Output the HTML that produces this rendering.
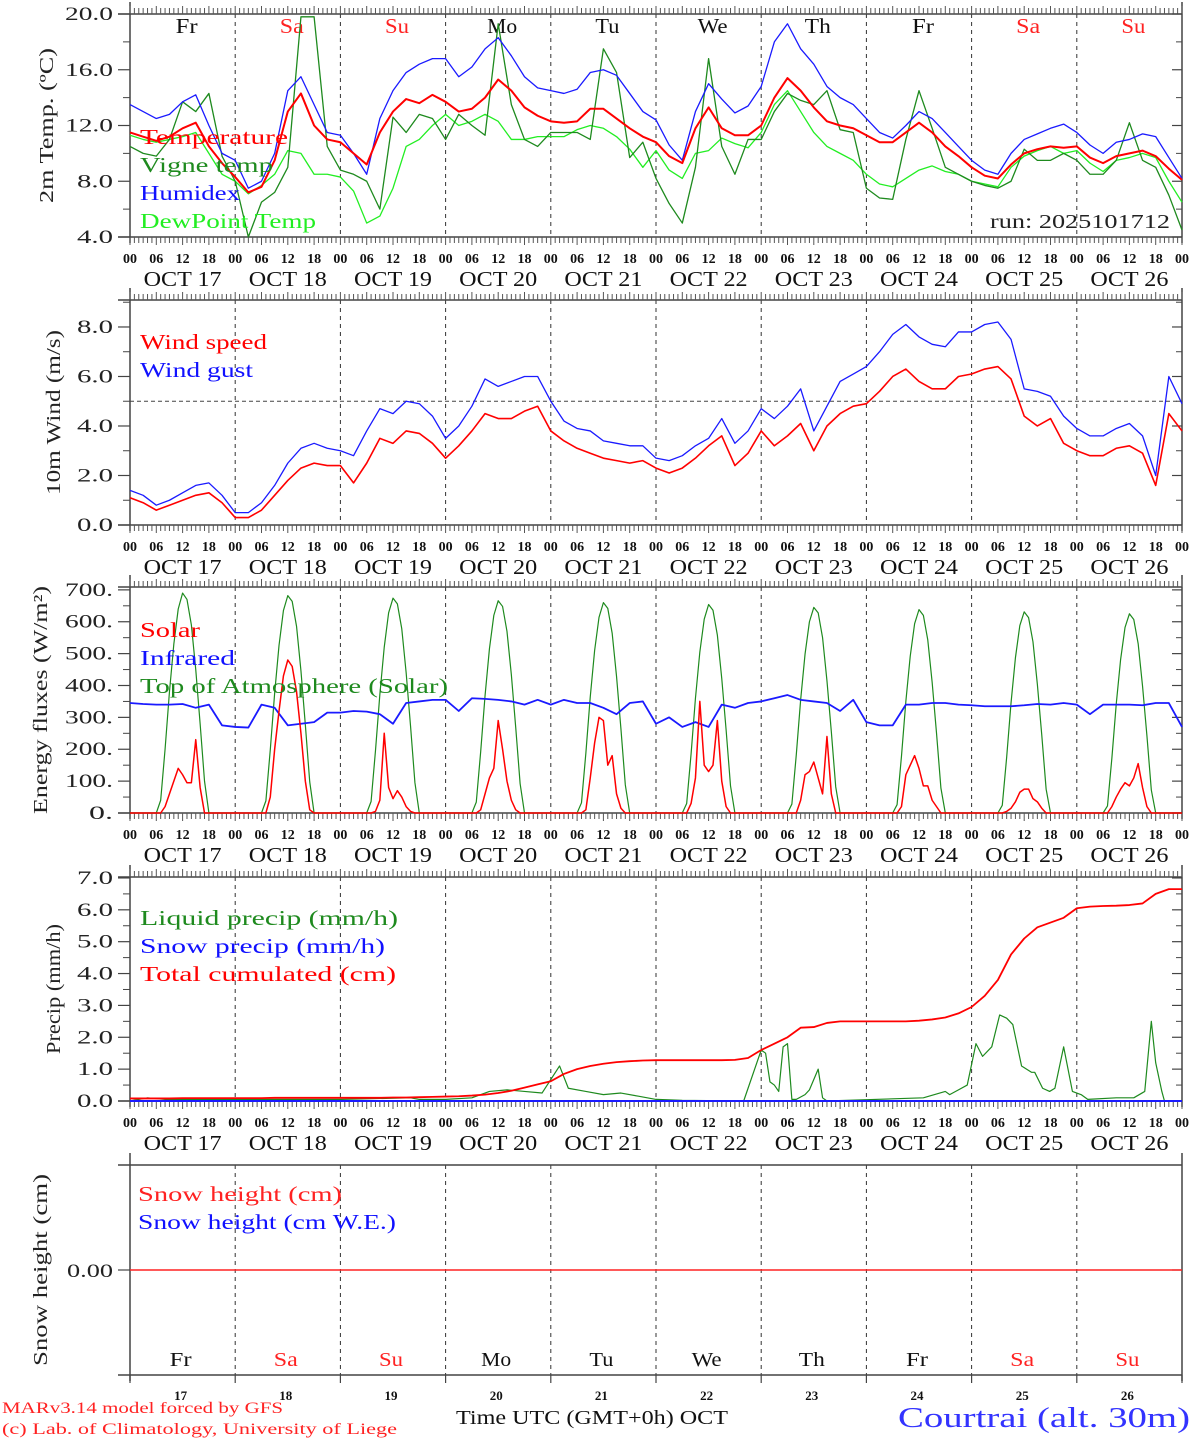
<!DOCTYPE html>
<html><head><meta charset="utf-8"><style>
html,body{margin:0;padding:0;background:#fff;}
svg{display:block;font-family:"Liberation Serif",serif;}
</style></head><body>
<svg id="chart" width="1194" height="1440" viewBox="0 0 1194 1440" xmlns="http://www.w3.org/2000/svg"></svg>
<script>
// ---------------- DATA (3-hourly unless noted, index i = hour 3*i from OCT 17 00UTC) -------------
const dayNames=["Fr","Sa","Su","Mo","Tu","We","Th","Fr","Sa","Su"];
const dayNums=["17","18","19","20","21","22","23","24","25","26"];
const tempT=[11.5,11.2,10.9,11.2,11.8,12.2,10.5,9.3, 8.3,7.2,7.6,9.5,13.0,14.3,12.0,11.0, 10.8,10.0,9.2,11.5,13.0,13.9,13.6,14.2, 13.7,13.0,13.2,14.0,15.3,14.5,13.3,12.7, 12.3,12.2,12.3,13.2,13.2,12.5,11.8,11.2, 10.8,9.8,9.3,11.8,13.3,11.8,11.3,11.3, 12.0,14.0,15.4,14.5,13.3,12.3,12.0,11.8, 11.3,10.8,10.8,11.5,12.2,11.5,10.5,9.8, 9.0,8.4,8.2,9.2,10.0,10.3,10.5,10.4, 10.5,9.7,9.3,9.8,10.0,10.2,9.8,8.9, 8.1];
const tempH=[13.5,13.0,12.5,12.8,13.7,14.2,12.0,10.0, 9.5,7.5,8.0,10.0,14.5,15.5,13.5,11.5, 11.3,10.0,8.5,12.5,14.5,15.8,16.4,16.8, 16.8,15.5,16.2,17.5,18.3,17.0,15.5,14.7, 14.5,14.3,14.6,15.8,16.0,15.6,14.3,13.0, 12.4,10.6,9.5,13.0,15.0,13.9,12.9,13.4, 14.8,18.0,19.3,17.5,16.4,14.8,14.0,13.5, 12.5,11.5,11.1,12.0,13.0,12.5,11.5,10.5, 9.5,8.8,8.5,10.0,11.0,11.4,11.8,12.1, 11.5,10.6,10.0,10.8,11.0,11.4,11.2,9.7, 8.2];
const tempD=[11.3,11.0,10.8,11.0,11.2,11.5,10.0,8.5, 8.0,7.1,7.7,8.5,10.2,10.0,8.5,8.5, 8.3,7.3,5.0,5.5,7.5,10.5,11.0,12.0, 12.8,12.0,12.3,12.8,12.3,11.0,11.0,11.2, 11.2,11.2,11.7,12.0,11.8,11.2,10.3,9.0, 10.2,8.8,8.2,10.0,10.2,11.1,10.7,10.4, 11.5,13.5,14.5,13.0,11.5,10.5,10.0,9.5, 8.5,7.8,7.6,8.2,8.8,9.1,8.7,8.5, 8.0,7.8,7.6,9.0,9.8,10.2,10.5,10.0, 10.2,9.3,8.7,9.5,9.7,10.0,9.7,8.0, 6.5];
const tempV=[10.5,10.0,9.8,11.0,13.7,13.0,14.3,9.8, 8.0,4.0,6.5,7.2,9.0,19.8,19.8,10.5, 8.8,8.5,8.0,6.0,12.6,11.5,12.8,12.5, 11.0,12.8,12.0,11.3,19.3,13.5,11.0,10.5, 11.5,11.5,11.5,11.0,17.5,15.8,9.7,10.8, 8.2,6.4,5.0,9.0,16.8,10.5,8.5,11.0, 11.0,13.0,14.3,13.8,13.5,14.5,11.7,11.5, 7.5,6.8,6.7,11.0,14.5,11.8,9.0,8.5, 8.0,7.7,7.5,8.0,10.3,9.5,9.5,10.0, 9.5,8.5,8.5,9.5,12.2,9.5,9.0,7.0, 4.5];
const windS=[1.1,0.9,0.6,0.8,1.0,1.2,1.3,0.9, 0.3,0.3,0.6,1.2,1.8,2.3,2.5,2.4, 2.4,1.7,2.5,3.5,3.3,3.8,3.7,3.3, 2.7,3.2,3.8,4.5,4.3,4.3,4.6,4.8, 3.8,3.4,3.1,2.9,2.7,2.6,2.5,2.6, 2.3,2.1,2.3,2.7,3.2,3.6,2.4,2.9, 3.8,3.2,3.6,4.1,3.0,4.0,4.5,4.8, 4.9,5.4,6.0,6.3,5.8,5.5,5.5,6.0, 6.1,6.3,6.4,5.9,4.4,4.0,4.3,3.3, 3.0,2.8,2.8,3.1,3.2,2.9,1.6,4.5, 3.8];
const windG=[1.4,1.2,0.8,1.0,1.3,1.6,1.7,1.2, 0.5,0.5,0.9,1.6,2.5,3.1,3.3,3.1, 3.0,2.8,3.8,4.7,4.5,5.0,4.9,4.4, 3.5,4.0,4.8,5.9,5.6,5.8,6.0,6.0, 5.0,4.2,3.9,3.8,3.4,3.3,3.2,3.2, 2.7,2.6,2.8,3.2,3.5,4.3,3.3,3.8, 4.7,4.3,4.8,5.5,3.8,4.8,5.8,6.1, 6.4,7.0,7.7,8.1,7.6,7.3,7.2,7.8, 7.8,8.1,8.2,7.5,5.5,5.4,5.2,4.4, 3.9,3.6,3.6,3.9,4.1,3.6,2.0,6.0, 4.9];
const infrared=[345,342,340,340,342,330,340,275, 270,268,340,330,275,280,285,315, 315,320,318,310,280,345,350,355, 355,320,360,358,355,350,340,355, 340,355,345,345,330,310,345,350, 280,300,270,285,270,340,330,345, 350,360,370,355,350,345,320,355, 285,275,275,340,340,345,345,340, 338,335,335,335,338,342,340,345, 340,310,340,340,340,338,345,345, 270];
// hourly daytime values, hours 06..18 of each day
const toa17=[0,40,200,380,530,640,690,670,590,450,280,100,0];
const toa18=[0,38,198,376,526,635,682,664,585,446,277,98,0];
const toa19=[0,36,195,372,520,628,674,656,578,440,273,95,0];
const toa20=[0,34,192,368,515,620,666,648,570,434,268,92,0];
const toa21=[0,32,188,364,510,614,660,642,564,428,264,88,0];
const toa22=[0,30,185,360,505,608,654,636,558,422,260,85,0];
const toa23=[0,28,182,355,498,600,645,628,550,415,255,82,0];
const toa24=[0,26,178,350,492,594,638,620,543,410,250,78,0];
const toa25=[0,24,175,346,487,588,631,613,537,404,246,75,0];
const toa26=[0,22,172,342,482,582,625,607,531,398,242,72,0];
const solar17=[0,0,20,60,100,140,120,95,95,230,80,0,0];
const solar18=[0,0,50,200,320,430,480,460,380,250,100,10,0];
const solar19=[0,0,5,40,250,80,45,70,50,20,5,0,0];
const solar20=[0,0,10,60,110,140,290,200,100,40,10,0,0];
const solar21=[0,0,10,110,220,300,290,150,180,60,15,0,0];
const solar22=[0,0,30,110,350,150,130,150,290,100,20,0,0];
const solar23=[0,0,0,40,120,130,160,110,60,240,60,0,0];
const solar24=[0,0,20,120,150,180,140,85,85,40,20,0,0];
const solar25=[0,0,5,15,35,65,75,75,45,35,15,0,0];
const solar26=[0,0,20,50,75,95,85,110,155,80,20,0,0];
const totalCum=[0.08,0.08,0.08,0.08,0.09,0.09,0.09,0.09, 0.09,0.09,0.09,0.1,0.1,0.1,0.1,0.1, 0.1,0.1,0.1,0.1,0.11,0.11,0.12,0.13, 0.14,0.15,0.17,0.2,0.25,0.32,0.42,0.52, 0.62,0.85,1.0,1.1,1.17,1.22,1.25,1.27, 1.28,1.28,1.28,1.28,1.28,1.28,1.29,1.35, 1.6,1.8,2.0,2.3,2.32,2.45,2.5,2.5, 2.5,2.5,2.5,2.5,2.52,2.56,2.62,2.75, 2.95,3.3,3.8,4.6,5.1,5.45,5.6,5.75, 6.05,6.1,6.12,6.13,6.15,6.2,6.5,6.65, 6.65];
// liquid precip: irregular hour stamps & values
const liqHour=[0,4,8,24,48,64,66,72,78,82,86,90,94,98,100,104,108,112,116,120,126,140,144,145,146,147,148,149,150,151,152,154,155,157,158,159,181,186,187,189,191,193,194.5,196.6,198.4,200,201.4,203.4,205.7,206.4,208.2,209.8,211,213,215,217,218.5,225,229,231.5,233,234,235.4,236,240];
const liqVal =[0,0.1,0.05,0.05,0.05,0.1,0.05,0.05,0.1,0.3,0.35,0.3,0.25,1.1,0.4,0.3,0.2,0.25,0.15,0.05,0.02,0,1.6,1.5,0.6,0.5,0.3,1.7,1.8,0.05,0.05,0.2,0.35,1.0,0.1,0,0.1,0.3,0.2,0.35,0.5,1.8,1.4,1.7,2.7,2.6,2.4,1.1,0.9,0.9,0.4,0.3,0.4,1.7,0.3,0.2,0.05,0.1,0.1,0.3,2.5,1.2,0.3,0,0];
const snowH=[0,0];
const tTicks1=["4.0","8.0","12.0","16.0","20.0"];
const tTicks2=["0.0","2.0","4.0","6.0","8.0"];
const tTicks3=["0.","100.","200.","300.","400.","500.","600.","700."];
const tTicks4=["0.0","1.0","2.0","3.0","4.0","5.0","6.0","7.0"];

// ---------------- DRAW ----------------
const svg=document.getElementById('chart');
const NS="http://www.w3.org/2000/svg";
const X0=130,X1=1182;
const nameLen={Fr:22,Sa:24,Su:24,Mo:30,Tu:24,We:30,Th:26};
function x(h){return X0+h*(X1-X0)/240;}
function mk(tag,attrs,parent){const e=document.createElementNS(NS,tag);for(const k in attrs)e.setAttribute(k,attrs[k]);(parent||svg).appendChild(e);return e;}
function txt(s,xx,yy,size,color,anchor,parent,extra,len){const a=Object.assign({x:xx,y:yy,'font-size':size,fill:color||'#000','text-anchor':anchor||'start'},extra||{});
 if(len){a.textLength=len;a.lengthAdjust='spacingAndGlyphs';}
 const e=mk('text',a,parent);e.textContent=s;return e;}
function poly(times,vals,yf,color,w,name,g){let d='';for(let i=0;i<vals.length;i++){d+=(i?'L':'M')+x(times[i]).toFixed(2)+','+yf(vals[i]).toFixed(2);}
 const p=mk('path',{d:d,fill:'none',stroke:color,'stroke-width':w,'stroke-linejoin':'round'},g);
 
 return p;}
const t3=[];for(let i=0;i<81;i++)t3.push(i*3);

function panel(name,top,bot,vmin,vmax,ticks,tickStep,minorStep,title,titleX,titleLen,hourLabels){
 const g=mk('g',{});
 
 
 const yf=v=>bot-(v-vmin)*(bot-top)/(vmax-vmin);
 for(let d=1;d<10;d++){const l=mk('line',{x1:x(d*24),x2:x(d*24),y1:top,y2:bot,stroke:'#333','stroke-width':1,'stroke-dasharray':'4,4'},g);
  
  }
 mk('line',{x1:X0-12,x2:X1,y1:top,y2:top,stroke:'#444','stroke-width':1.5},g);
 mk('line',{x1:X0-12,x2:X1,y1:bot,y2:bot,stroke:'#444','stroke-width':1.5},g);
 mk('line',{x1:X0,x2:X0,y1:top-12,y2:bot+6,stroke:'#444','stroke-width':1.5},g);
 mk('line',{x1:X1,x2:X1,y1:top-12,y2:bot+6,stroke:'#444','stroke-width':1.5},g);
 if(hourLabels){for(let h=0;h<=240;h++){const L=(h%6==0)?8:6;
  mk('line',{x1:x(h),x2:x(h),y1:top-L,y2:top,stroke:'#555','stroke-width':1},g);
  mk('line',{x1:x(h),x2:x(h),y1:bot,y2:bot+L,stroke:'#555','stroke-width':1},g);}}
 if(ticks){for(let i=0;i<ticks.length;i++){const v=vmin+i*tickStep;const yy=yf(v);
   mk('line',{x1:X0-12,x2:X0,y1:yy,y2:yy,stroke:'#444','stroke-width':1.2},g);
   mk('line',{x1:X1-10,x2:X1,y1:yy,y2:yy,stroke:'#444','stroke-width':1.2},g);
   const tl=txt(ticks[i],113,yy+6,19,'#222','end',g,null,ticks[i].length*12);
   
   }
  if(minorStep){for(let v=vmin+minorStep;v<vmax;v+=tickStep){const yy=yf(v);
   mk('line',{x1:X0-7,x2:X0,y1:yy,y2:yy,stroke:'#444','stroke-width':1},g);
   mk('line',{x1:X1-6,x2:X1,y1:yy,y2:yy,stroke:'#444','stroke-width':1},g);}}}
 const cy=(top+bot)/2;
 const tt=txt(title,0,0,20,'#222','middle',g,{transform:'translate('+titleX+','+cy+') rotate(-90)'},titleLen);
 
 
 if(hourLabels){for(let d=0;d<10;d++){["00","06","12","18"].forEach((s,k)=>{txt(s,x(d*24+k*6),bot+26,14,'#111','middle',g,{'font-weight':'bold'});});
   const dl=txt('OCT '+dayNums[d],x(d*24+12),bot+49,21,'#111','middle',g,null,78);
   
   }
  txt("00",x(240),bot+26,14,'#111','middle',g,{'font-weight':'bold'});}
 return {g,yf};
}
function legend(items,xx,y0,g){items.forEach((it,i)=>{const e=txt(it[0],xx,y0+i*28,21,it[1],'start',g,null,it[2]);
 
 });}

// Panel 1
let P=panel('temperature-panel',14,237,4,20,tTicks1,4,2,'2m Temp. (ºC)',53,155,true);
dayNames.forEach((s,d)=>{const c=(d==1||d==2||d==8||d==9)?'#f22':'#111';txt(s,x(d*24+12)+4,33,21,c,'middle',P.g,null,nameLen[s]);});
poly(t3,tempD,P.yf,'#22ee22',1.3,'dewpoint-line',P.g);
poly(t3,tempV,P.yf,'#1e8a1e',1.3,'vigne-temp-line',P.g);
poly(t3,tempH,P.yf,'#1a1aff',1.3,'humidex-line',P.g);
poly(t3,tempT,P.yf,'#ff0000',2,'temperature-line',P.g);
legend([["Temperature","#f00",148],["Vigne temp","#1e8a1e",133],["Humidex","#11f",100],["DewPoint Temp","#2e2",176]],140,144,P.g);
txt("run: 2025101712",1170,228,20,'#222','end',P.g,null,180);

// Panel 2
P=panel('wind-panel',300,525,0,9.09,tTicks2,2,1,'10m Wind (m/s)',60,165,true);
mk('line',{x1:X0,x2:X1,y1:P.yf(5),y2:P.yf(5),stroke:'#444','stroke-width':1,'stroke-dasharray':'4,3'},P.g);
poly(t3,windG,P.yf,'#1a1aff',1.3,'wind-gust-line',P.g);
poly(t3,windS,P.yf,'#ff0000',1.6,'wind-speed-line',P.g);
legend([["Wind speed","#f00",127],["Wind gust","#11f",113]],140,349,P.g);

// Panel 3
P=panel('energy-panel',587,813,0,709,tTicks3,100,50,'Energy fluxes (W/m²)',47,228,true);
const toaDays=[toa17,toa18,toa19,toa20,toa21,toa22,toa23,toa24,toa25,toa26];
const solDays=[solar17,solar18,solar19,solar20,solar21,solar22,solar23,solar24,solar25,solar26];
function dayly(arrs){const T=[0],V=[0];arrs.forEach((a,d)=>{a.forEach((v,k)=>{T.push(d*24+6+k);V.push(v);});});T.push(240);V.push(0);return [T,V];}
let tv=dayly(toaDays);poly(tv[0],tv[1],P.yf,'#1e8a1e',1.2,'toa-solar-line',P.g);
poly(t3,infrared,P.yf,'#1a1aff',1.8,'infrared-line',P.g);
tv=dayly(solDays);poly(tv[0],tv[1],P.yf,'#ff0000',1.5,'solar-line',P.g);
legend([["Solar","#f00",60],["Infrared","#11f",95],["Top of Atmosphere (Solar)","#1e8a1e",308]],140,637,P.g);

// Panel 4
P=panel('precip-panel',877,1101,0,7.03,tTicks4,1,0.5,'Precip (mm/h)',60,130,true);
poly(liqHour,liqVal,P.yf,'#1e8a1e',1.2,'liquid-precip-line',P.g);
poly([0,240],[0,0],P.yf,'#1a1aff',2,'snow-precip-line',P.g);
poly(t3,totalCum,P.yf,'#ff0000',1.8,'total-cumulated-line',P.g);
legend([["Liquid precip (mm/h)","#1e8a1e",258],["Snow precip (mm/h)","#11f",245],["Total cumulated (cm)","#f00",256]],140,925,P.g);

// Panel 5
P=panel('snow-panel',1165,1375,-1,1,null,1,0,'Snow height (cm)',47,192,false);
mk('line',{x1:X0-12,x2:X0,y1:1270,y2:1270,stroke:'#444','stroke-width':1.2},P.g);
mk('line',{x1:X1-10,x2:X1,y1:1270,y2:1270,stroke:'#444','stroke-width':1.2},P.g);
txt("0.00",113,1277,19,'#222','end',P.g,null,46);
poly([0,240],snowH,P.yf,'#ff2222',1.6,'snow-height-line',P.g);
legend([["Snow height (cm)","#f22",204],["Snow height (cm W.E.)","#11f",258]],138,1201,P.g);
for(let d=0;d<=10;d++)mk('line',{x1:x(d*24),x2:x(d*24),y1:1375,y2:1383,stroke:'#444','stroke-width':1.2},P.g);
dayNames.forEach((s,d)=>{const c=(d==1||d==2||d==8||d==9)?'#f22':'#111';txt(s,x(d*24+12)-2,1366,20,c,'middle',P.g,null,nameLen[s]);
 txt(dayNums[d],x(d*24+12)-2,1400,13,'#111','middle',P.g,{'font-weight':'bold'});});

// footer
const f1=txt("MARv3.14 model forced by GFS",2,1413,16,'#f22','start',null,null,281);


const f2=txt("(c) Lab. of Climatology, University of Liege",2,1434,16,'#f22','start',null,null,395);


const f3=txt("Time UTC (GMT+0h) OCT",456,1424,20,'#111','start',null,null,272);


const f4=txt("Courtrai (alt. 30m)",898,1427,28,'#3333ff','start',null,null,292);


</script>
</body></html>
